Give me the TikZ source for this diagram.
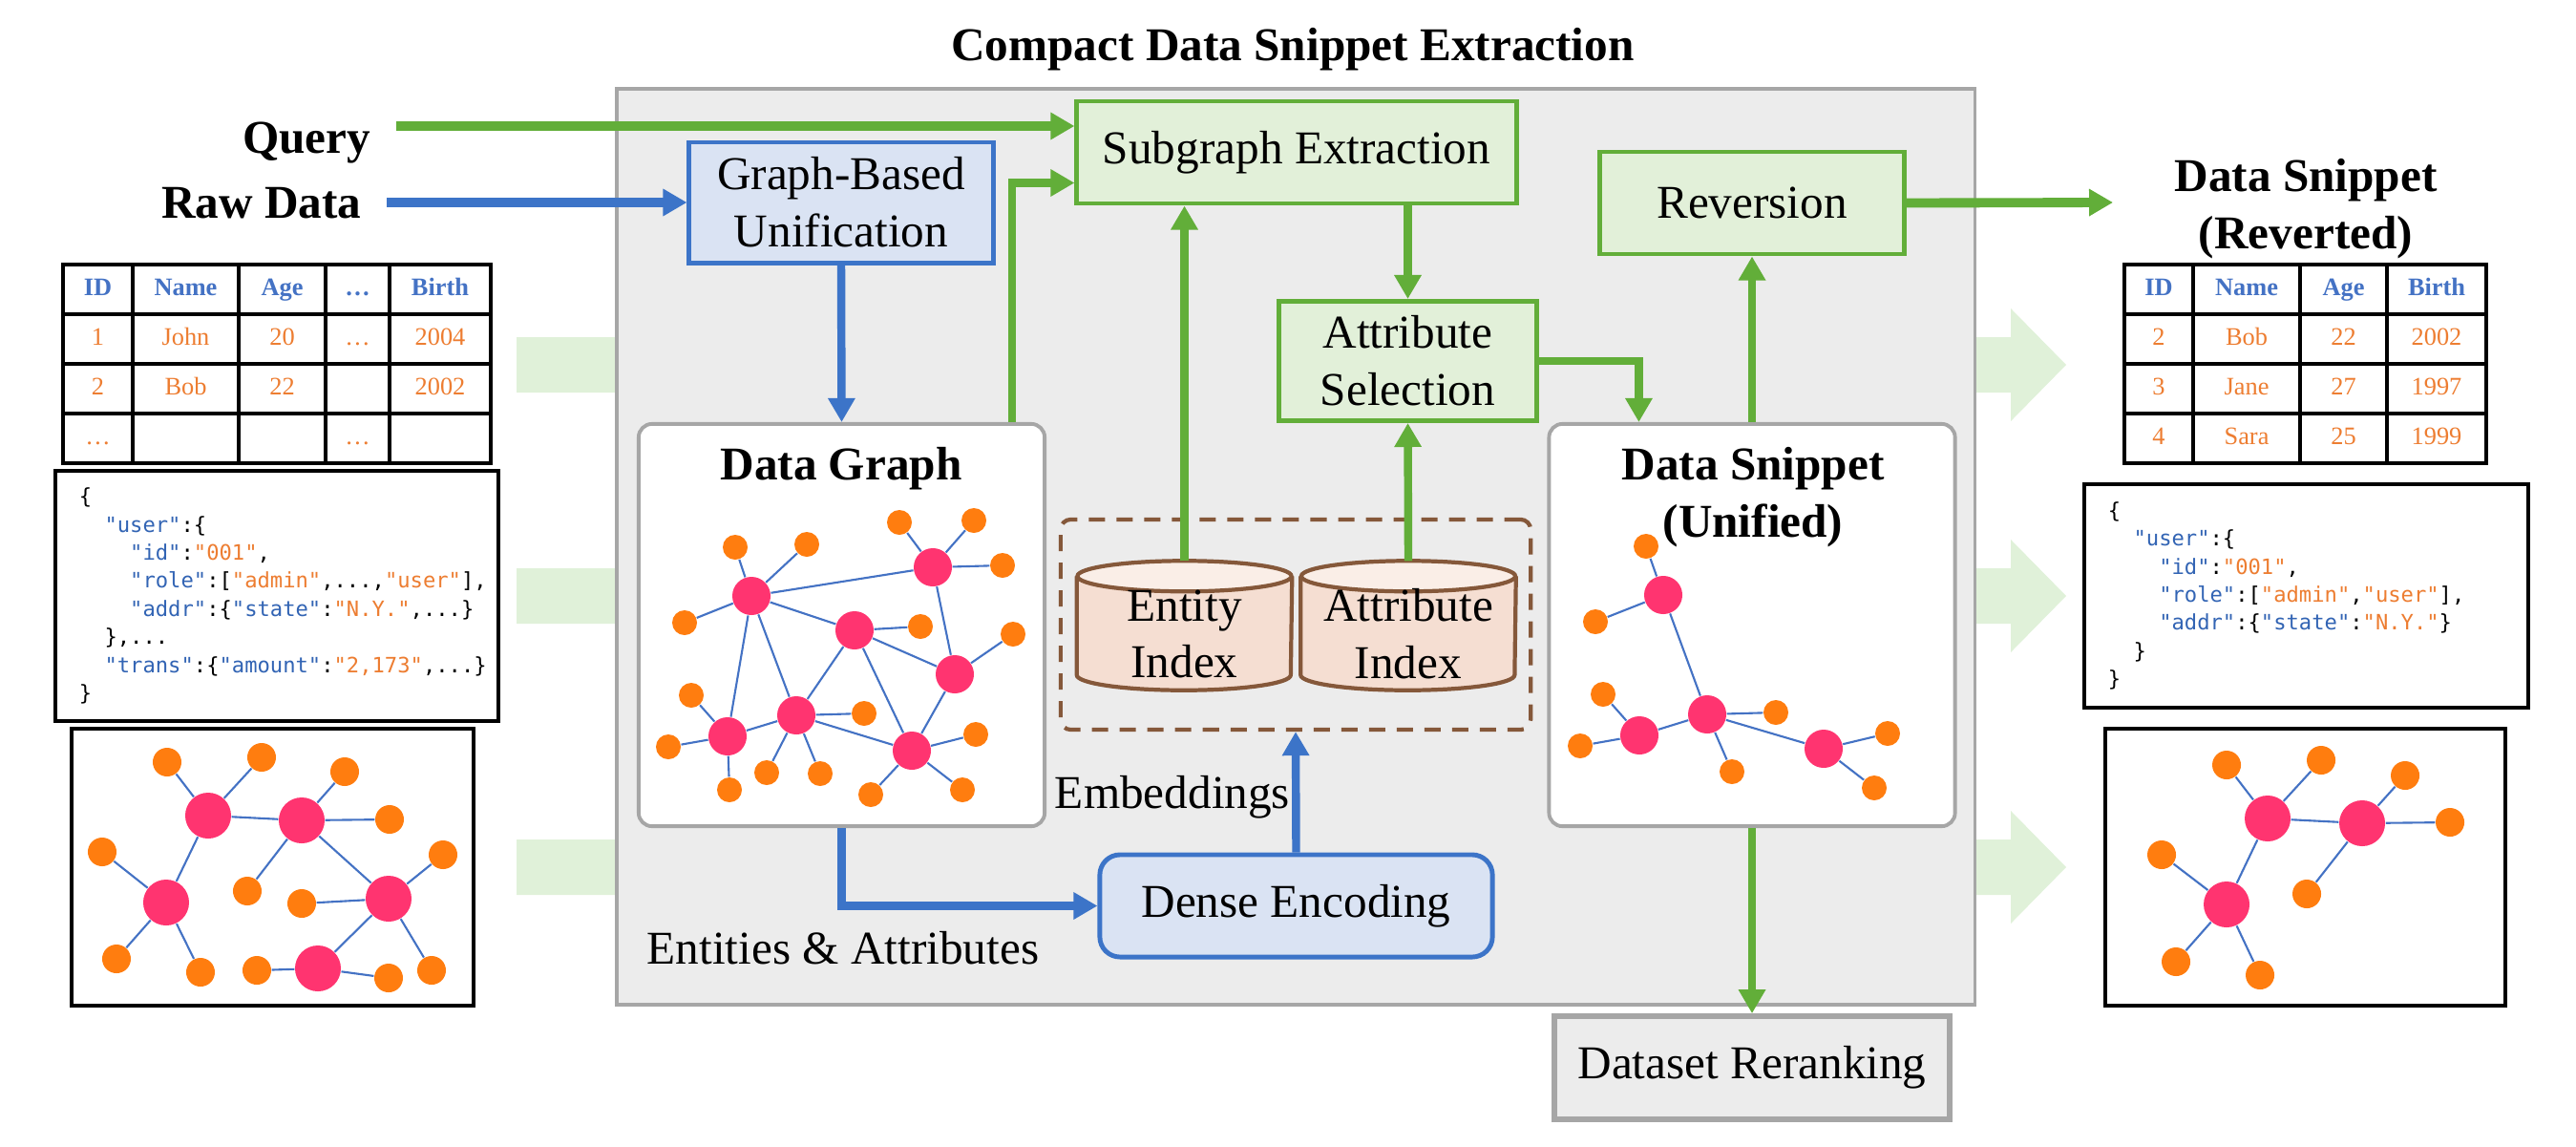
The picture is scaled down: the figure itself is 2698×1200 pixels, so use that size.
\documentclass[tikz,border=0pt]{standalone}
\usepackage{fontspec}
\setmainfont{Liberation Serif}
\setmonofont{DejaVu Sans Mono}
\usepackage{xcolor}
\usepackage{tikz}
\usetikzlibrary{arrows.meta,positioning,shapes.geometric,calc,backgrounds}
\definecolor{flowgreen}{RGB}{98,174,57}
\definecolor{lightgreen}{RGB}{226,240,217}
\definecolor{flowblue}{RGB}{60,116,200}
\definecolor{lightblue}{RGB}{218,227,243}
\definecolor{framegray}{RGB}{166,166,166}
\definecolor{panelgray}{RGB}{236,236,236}
\definecolor{idxbrown}{RGB}{133,88,58}
\definecolor{idxpeach}{RGB}{245,222,210}
\definecolor{idxtop}{RGB}{250,238,231}
\definecolor{hubpink}{RGB}{255,52,112}
\definecolor{leaforange}{RGB}{255,125,15}
\definecolor{edgeblue}{RGB}{68,114,196}
\definecolor{headblue}{RGB}{68,114,196}
\definecolor{valorange}{RGB}{237,125,49}
\definecolor{keyblue}{RGB}{50,100,180}
\definecolor{hintgreen}{RGB}{224,241,217}

\newcommand{\lbl}{\fontsize{14}{17}\selectfont}
\newcommand{\cellfont}{\fontsize{7.5}{9}\selectfont}
\newcommand{\codefont}{\fontsize{6.3}{8.35}\selectfont\ttfamily}
\newcommand{\jkey}[1]{\textcolor{keyblue}{#1}}
\newcommand{\jstr}[1]{\textcolor{valorange}{#1}}
% database drum drawn over a holder node
\newcommand{\dbcyl}[1]{%
  \draw[draw=idxbrown,line width=1.2pt,fill=idxpeach]
    ($(#1.north west)+(0,16)$) -- ($(#1.south west)+(0,-16)$)
    arc[start angle=180,end angle=360,x radius=1.12cm,y radius=0.16cm]
    -- ($(#1.north east)+(0,16)$);
  \draw[draw=idxbrown,line width=1.2pt,fill=idxtop]
    ($(#1.north)+(0,16)$) ellipse[x radius=1.12cm,y radius=0.16cm];}

\begin{document}
\begin{tikzpicture}[x=0.01cm,y=-0.01cm,
  flow/.style={draw=flowgreen,line width=1.4pt,fill=lightgreen,align=center,
               font=\lbl,inner sep=0pt},
  prep/.style={draw=flowblue,line width=1.4pt,fill=lightblue,align=center,
               font=\lbl,inner sep=0pt},
  panel/.style={draw=framegray,line width=1.1pt,fill=white,rounded corners=4pt,
                inner sep=0pt,minimum width=4.25cm,minimum height=4.21cm},
  store/.style={inner sep=0pt,minimum width=2.24cm,minimum height=1.34cm},
  framed/.style={draw=black,line width=1.1pt,fill=white,inner sep=0pt},
  code/.style={framed,align=left,font=\codefont,inner xsep=0.25cm},
  garrow/.style={-{Triangle[length=0.25cm,width=0.27cm]},draw=flowgreen,line width=2.4pt},
  barrow/.style={-{Triangle[length=0.25cm,width=0.27cm]},draw=flowblue,line width=2.4pt},
  hub/.style={circle,fill=hubpink,inner sep=0pt,minimum size=0.48cm},
  leaf/.style={circle,fill=leaforange,inner sep=0pt,minimum size=0.30cm},
  hubs/.style={hub,minimum size=0.40cm},
  leafs/.style={leaf,minimum size=0.26cm},
  gedge/.style={draw=edgeblue,line width=0.6pt},
  cell/.style={draw=black,line width=1pt,inner sep=0pt,minimum height=0.52cm,
               text height=5pt,text depth=1.5pt}]
  \useasboundingbox (0,0) rectangle (2698,1200);

  % pale arrows running behind the panel
  \foreach \y in {382,624,908}
    \fill[hintgreen] (541,\y-29) -- (2106,\y-29) -- (2106,\y-59) -- (2164,\y)
      -- (2106,\y+59) -- (2106,\y+29) -- (541,\y+29) -- cycle;

  \node[draw=framegray,line width=1.1pt,fill=panelgray,minimum width=14.22cm,
        minimum height=9.59cm,inner sep=0pt](cdse) at (1357,572.5) {};
  \node[font=\lbl\bfseries](cdsetitle) at (1354,52) {Compact Data Snippet Extraction};

  \node[prep,minimum width=3.18cm,minimum height=1.26cm](gbu) at (881,212) {Graph-Based\\Unification};
  \node[flow,minimum width=4.60cm,minimum height=1.07cm](sub) at (1358,159.5) {Subgraph Extraction};
  \node[flow,minimum width=2.69cm,minimum height=1.25cm](asel) at (1474.5,378) {Attribute\\Selection};
  \node[flow,minimum width=3.18cm,minimum height=1.07cm](rev) at (1835,212.5) {Reversion};
  \node[panel](dgraph) at (881.5,654.5) {};
  \node[panel](uni) at (1835,654.5) {};
  \node[draw=idxbrown,line width=1.2pt,dash pattern=on 0.17cm off 0.12cm,
        rounded corners=3pt,minimum width=4.92cm,minimum height=2.20cm](idxbox) at (1357,654) {};
  \node[store](eidx) at (1240.5,655) {};
  \node[store](aidx) at (1475,655) {};
  \dbcyl{eidx}
  \dbcyl{aidx}
  \node[font=\lbl,align=center](eidxlbl) at (1240.5,664) {Entity\\Index};
  \node[font=\lbl,align=center](aidxlbl) at (1475,664) {Attribute\\Index};
  \node[prep,rounded corners=6pt,minimum width=4.11cm,minimum height=1.07cm](dense) at (1357.5,948.5) {Dense Encoding};
  \node[draw=framegray,line width=1.6pt,fill=panelgray,font=\lbl,minimum width=4.14cm,
        minimum height=1.08cm,inner sep=0pt](rerank) at (1835,1118) {Dataset Reranking};

  \node[font=\lbl\bfseries](dgtitle) at (881,491) {Data Graph};
  \node[font=\lbl\bfseries,align=center](unititle) at (1836,521) {Data Snippet\\(Unified)};
  \node[font=\lbl](emblbl) at (1228,835) {Embeddings};
  \node[font=\lbl](ealbl) at (883,993) {Entities \& Attributes};
  \node[font=\lbl\bfseries,anchor=east,inner sep=0pt](querylbl) at (389,150) {Query};
  \node[font=\lbl\bfseries,anchor=east,inner sep=0pt](rawlbl) at (379,213) {Raw Data};
  \node[font=\lbl\bfseries,align=center](outlbl) at (2415,219) {Data Snippet\\(Reverted)};

  \coordinate (qstart) at (415,132);
  \coordinate (rstart) at (405,212);
  \coordinate (outtip) at (2213,212);

  \draw[garrow,line width=2.8pt](qstart) -- (qstart -| sub.west);
  \draw[barrow,line width=2.8pt](rstart) -- (rstart -| gbu.west);
  \draw[garrow,line width=2.8pt](rev.east) -- (outtip);
  \draw[barrow](gbu.south) -- (dgraph.north);
  \draw[barrow](dgraph.south) |- (dense.west);
  \draw[barrow](dense.north) -- (idxbox.south);
  \draw[garrow]($(dgraph.north east)+(-36,0)$) |- ($(sub.west)+(0,32)$);
  \draw[garrow](eidx.north) -- (eidx.north |- sub.south);
  \draw[garrow](asel.north |- sub.south) -- (asel.north);
  \draw[garrow](aidx.north) -- (asel.south);
  \draw[garrow](asel.east) -| ($(uni.north west)+(96,0)$);
  \draw[garrow](uni.north) -- (rev.south);
  \draw[garrow](uni.south) -- (rerank.north);

  % input side
  \foreach \y/\tc/\fw/\a/\b/\c/\d/\e in {303/headblue/\bfseries/ID/Name/Age/\dots/Birth,
      355/valorange/\mdseries/1/John/20/\dots/2004,407/valorange/\mdseries/2/Bob/22/{}/2002,
      459/valorange/\mdseries/\dots/{}/{}/\dots/{}}
    \foreach \k/\x/\w/\t in {1/102.5/0.73/\a,2/194.5/1.11/\b,3/295.5/0.91/\c,4/374.5/0.67/\d,5/461/1.06/\e}
      \node[cell,minimum width=\w cm,text=\tc,font=\cellfont\fw](lt\y-\k) at (\x,\y) {\t};

  \node[code,text width=4.14cm,minimum height=2.62cm](ljson) at (290,624) {%
    \{\\
    \phantom{xx}\jkey{"user"}:\{\\
    \phantom{xxxx}\jkey{"id"}:\jstr{"001"},\\
    \phantom{xxxx}\jkey{"role"}:[\jstr{"admin"},...,\jstr{"user"}],\\
    \phantom{xxxx}\jkey{"addr"}:\{\jkey{"state"}:\jstr{"N.Y."},...\}\\
    \phantom{xx}\},...\\
    \phantom{xx}\jkey{"trans"}:\{\jkey{"amount"}:\jstr{"2,173"},...\}\\
    \}};

  \node[framed,minimum width=4.21cm,minimum height=2.90cm](lgraph) at (285.5,908) {};
  \foreach \n/\x/\y in {1/218/854,2/316/859,3/174/945,4/407/941,5/333/1014}
    \node[hub](lh\n) at (\x,\y) {};
  \foreach \n/\x/\y in {1/175/798,2/274/793,3/361/808,4/408/858,5/107/892,6/464/895,7/259/933,
      8/316/946,9/122/1004,10/210/1018,11/269/1016,12/407/1024,13/452/1016}
    \node[leaf](ll\n) at (\x,\y) {};
  \foreach \a/\b in {lh1/ll1,lh1/ll2,lh1/lh2,lh1/lh3,lh2/ll3,lh2/ll4,lh2/ll7,lh2/lh4,lh3/ll5,
      lh3/ll9,lh3/ll10,lh4/ll6,lh4/ll8,lh4/lh5,lh4/ll13,lh5/ll11,lh5/ll12}
    \draw[gedge](\a) -- (\b);

  % data graph
  \foreach \n/\x/\y in {1/787/624,2/977/594,3/895/660,4/1000/706,5/834/749,6/762/771,7/955/786}
    \node[hubs](dh\n) at (\x,\y) {};
  \foreach \n/\x/\y in {1/770/573,2/845/570,3/942/547,4/1020/545,5/1050/592,6/717/652,7/964/656,
      8/1061/664,9/724/728,10/905/747,11/700/782,12/764/827,13/803/809,14/859/810,15/912/832,
      16/1008/827,17/1022/769}
    \node[leafs](dl\n) at (\x,\y) {};
  \foreach \a/\b in {dh1/dl1,dh1/dl2,dh1/dl6,dh1/dh2,dh1/dh3,dh1/dh6,dh1/dh5,dh2/dl3,dh2/dl4,
      dh2/dl5,dh2/dh4,dh3/dl7,dh3/dh4,dh3/dh5,dh3/dh7,dh4/dl8,dh4/dh7,dh5/dh6,dh5/dl10,dh5/dl13,
      dh5/dl14,dh5/dh7,dh6/dl9,dh6/dl11,dh6/dl12,dh7/dl15,dh7/dl16,dh7/dl17}
    \draw[gedge](\a) -- (\b);

  % unified snippet
  \foreach \n/\x/\y in {1/1742/623,2/1788/748,3/1717/770,4/1910/784}
    \node[hubs](uh\n) at (\x,\y) {};
  \foreach \n/\x/\y in {1/1724/572,2/1671/651,3/1679/727,4/1860/746,5/1655/781,6/1814/808,
      7/1977/768,8/1963/825}
    \node[leafs](ul\n) at (\x,\y) {};
  \foreach \a/\b in {uh1/ul1,uh1/ul2,uh1/uh2,uh2/ul4,uh2/uh3,uh2/ul6,uh2/uh4,uh3/ul3,uh3/ul5,
      uh4/ul7,uh4/ul8}
    \draw[gedge](\a) -- (\b);

  % output side
  \foreach \y/\tc/\fw/\a/\b/\c/\e in {303/headblue/\bfseries/ID/Name/Age/Birth,
      355/valorange/\mdseries/2/Bob/22/2002,407/valorange/\mdseries/3/Jane/27/1997,
      459/valorange/\mdseries/4/Sara/25/1999}
    \foreach \k/\x/\w/\t in {1/2261/0.72/\a,2/2353/1.12/\b,3/2454.5/0.91/\c,4/2552/1.04/\e}
      \node[cell,minimum width=\w cm,text=\tc,font=\cellfont\fw](rt\y-\k) at (\x,\y) {\t};

  \node[code,text width=4.15cm,minimum height=2.34cm](rjson) at (2415.5,624) {%
    \{\\
    \phantom{xx}\jkey{"user"}:\{\\
    \phantom{xxxx}\jkey{"id"}:\jstr{"001"},\\
    \phantom{xxxx}\jkey{"role"}:[\jstr{"admin"},\jstr{"user"}],\\
    \phantom{xxxx}\jkey{"addr"}:\{\jkey{"state"}:\jstr{"N.Y."}\}\\
    \phantom{xx}\}\\
    \}};

  \node[framed,minimum width=4.19cm,minimum height=2.90cm](rgraph) at (2414.5,908) {};
  \foreach \n/\x/\y in {1/2375/857,2/2474/862,3/2332/947}
    \node[hub](rh\n) at (\x,\y) {};
  \foreach \n/\x/\y in {1/2332/801,2/2431/796,3/2519/812,4/2566/861,5/2264/895,6/2416/936,
      7/2279/1007,8/2367/1021}
    \node[leaf](rl\n) at (\x,\y) {};
  \foreach \a/\b in {rh1/rl1,rh1/rl2,rh1/rh2,rh1/rh3,rh2/rl3,rh2/rl4,rh2/rl6,rh3/rl5,rh3/rl7,rh3/rl8}
    \draw[gedge](\a) -- (\b);
\end{tikzpicture}
\end{document}
